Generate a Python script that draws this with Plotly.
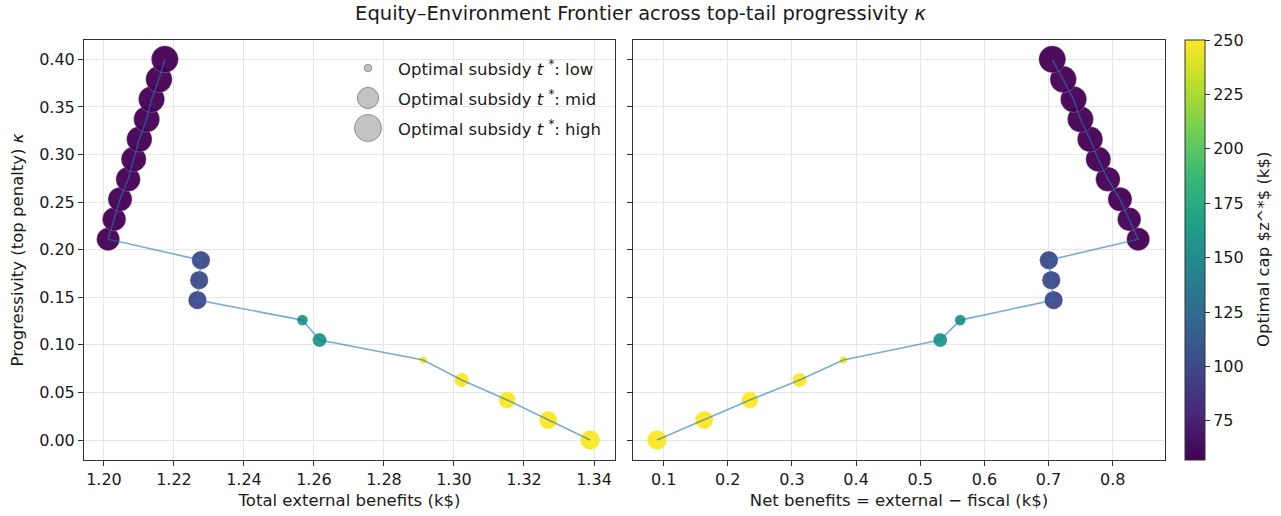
import plotly.graph_objects as go

# Top-tail progressivity (penalty) values
kappa = [0.000, 0.021, 0.042, 0.063, 0.084, 0.105, 0.126, 0.147, 0.168, 0.189,
         0.211, 0.232, 0.253, 0.274, 0.295, 0.316, 0.337, 0.358, 0.379, 0.400]

# Total external benefits (k$)
external = [1.3389, 1.3269, 1.3152, 1.3022, 1.2912, 1.2616, 1.2567, 1.2267, 1.2272, 1.2277,
            1.2012, 1.2029, 1.2046, 1.2069, 1.2085, 1.2101, 1.2122, 1.2136, 1.2157, 1.2174]

# Net benefits = external - fiscal (k$)
net = [0.0898, 0.1632, 0.2344, 0.3121, 0.3801, 0.5312, 0.5623, 0.7079, 0.7042, 0.7004,
       0.8397, 0.8257, 0.8113, 0.7925, 0.7775, 0.7647, 0.7497, 0.7390, 0.7229, 0.7058]

# Optimal cap z* (k$)
cap = [250, 250, 250, 250, 250, 160, 160, 100, 100, 100,
       57, 57, 57, 57, 57, 57, 57, 57, 57, 57]

# Optimal subsidy t*
subsidy = [3.80, 3.24, 2.79, 2.04, 0.56, 1.96, 1.17, 3.39, 3.39, 3.39,
           5.29, 5.52, 5.76, 6.00, 6.25, 6.50, 6.76, 6.86, 7.02, 7.29]

legend_levels = ["low", "mid", "high"]

W, H = 1281, 516
FONT = "DejaVu Sans"
TXT = "#1a1a1a"
TICK_SIZE = 16
LABEL_SIZE = 16.5


def marker_diameter(t):
    return 10.0 * t ** 0.5


sizes = [marker_diameter(t) for t in subsidy]

fig = go.Figure()

for xs, xa, ya in [(external, "x", "y"), (net, "x2", "y2")]:
    fig.add_trace(go.Scatter(
        x=xs, y=kappa, xaxis=xa, yaxis=ya, mode="markers",
        marker=dict(size=sizes, color=cap, coloraxis="coloraxis", opacity=0.95,
                    line=dict(width=0.5, color="rgba(255,255,255,0.5)")),
        showlegend=False, hoverinfo="skip"))
    fig.add_trace(go.Scatter(
        x=xs, y=kappa, xaxis=xa, yaxis=ya, mode="lines",
        line=dict(color="rgba(31,119,180,0.6)", width=1.6),
        showlegend=False, hoverinfo="skip"))


# Pixel-based layout helpers
def px_x(p):
    return p / W


def px_y(p):
    return 1 - p / H


x1_dom = [px_x(84), px_x(615)]
x2_dom = [px_x(633), px_x(1165)]
y_dom = [px_y(460), px_y(40)]

axis_common = dict(
    showline=True, linecolor="#333333", linewidth=1, mirror=True,
    ticks="outside", ticklen=5, tickwidth=1, tickcolor="#333333",
    showgrid=True, gridcolor="#e6e6e6", gridwidth=1, zeroline=False,
    tickfont=dict(family=FONT, size=TICK_SIZE, color=TXT),
    automargin=False,
)

fig.update_layout(
    width=W, height=H,
    margin=dict(l=0, r=0, t=0, b=0),
    paper_bgcolor="white", plot_bgcolor="white",
    font=dict(family=FONT, size=LABEL_SIZE, color=TXT),
    title=dict(text="Equity–Environment Frontier across top-tail progressivity <i>κ</i>",
               x=0.5, xanchor="center", y=px_y(13), yanchor="middle",
               font=dict(family=FONT, size=19.5, color=TXT)),
    xaxis=dict(domain=x1_dom, anchor="y", range=[1.1943, 1.3460],
               tickvals=[1.20, 1.22, 1.24, 1.26, 1.28, 1.30, 1.32, 1.34], tickformat=".2f",
               title=dict(text="Total external benefits (k$)", standoff=6,
                          font=dict(family=FONT, size=LABEL_SIZE)),
               **axis_common),
    xaxis2=dict(domain=x2_dom, anchor="y2", range=[0.0523, 0.8815],
                tickvals=[0.1, 0.2, 0.3, 0.4, 0.5, 0.6, 0.7, 0.8], tickformat=".1f",
                title=dict(text="Net benefits = external − fiscal (k$)", standoff=6,
                           font=dict(family=FONT, size=LABEL_SIZE)),
                **axis_common),
    yaxis=dict(domain=y_dom, anchor="x", range=[-0.021, 0.4203],
               tickvals=[0.0, 0.05, 0.10, 0.15, 0.20, 0.25, 0.30, 0.35, 0.40], tickformat=".2f",
               title=dict(text="Progressivity (top penalty) <i>κ</i>", standoff=11,
                          font=dict(family=FONT, size=LABEL_SIZE)),
               **axis_common),
    yaxis2=dict(domain=y_dom, anchor="x2", matches="y", showticklabels=False,
                tickvals=[0.0, 0.05, 0.10, 0.15, 0.20, 0.25, 0.30, 0.35, 0.40],
                **axis_common),
    coloraxis=dict(
        colorscale="Viridis", cmin=min(cap), cmax=max(cap),
        colorbar=dict(
            x=px_x(1185), xanchor="left", xref="paper", xpad=0,
            y=px_y(460), yanchor="bottom", yref="paper", ypad=0,
            len=420 / H, lenmode="fraction",
            thickness=20, thicknessmode="pixels",
            outlinewidth=1, outlinecolor="#333333",
            ticks="outside", ticklen=5, tickcolor="#333333",
            tickvals=[75, 100, 125, 150, 175, 200, 225, 250],
            tickfont=dict(family=FONT, size=TICK_SIZE, color=TXT),
        ),
    ),
)

# Colorbar label, set vertically beside the tick labels
fig.add_annotation(xref="paper", yref="paper", x=px_x(1263), y=px_y(250),
                   xanchor="center", yanchor="middle", showarrow=False, textangle=-90,
                   text="Optimal cap $z^*$ (k$)",
                   font=dict(family=FONT, size=LABEL_SIZE, color=TXT))

# Size legend for the optimal subsidy t*
sorted_t = sorted(subsidy)
n = len(sorted_t)
mid_t = (sorted_t[n // 2 - 1] + sorted_t[n // 2]) / 2
legend_t = [min(subsidy), mid_t, max(subsidy)]
legend_rows_px = [68, 98, 128]
for level, t, ypx in zip(legend_levels, legend_t, legend_rows_px):
    r = marker_diameter(t) / 2
    fig.add_shape(type="circle", xref="paper", yref="paper",
                  xsizemode="pixel", ysizemode="pixel",
                  xanchor=px_x(368), yanchor=px_y(ypx),
                  x0=-r, x1=r, y0=-r, y1=r,
                  fillcolor="rgba(170,170,170,0.7)",
                  line=dict(color="rgba(128,128,128,0.8)", width=1))
    fig.add_annotation(xref="paper", yref="paper", x=px_x(396), y=px_y(ypx),
                       xanchor="left", yanchor="middle", showarrow=False,
                       text=f"Optimal subsidy <i>t</i> <sup>*</sup>: {level}",
                       font=dict(family=FONT, size=LABEL_SIZE, color=TXT))

fig.write_html("out.html")
